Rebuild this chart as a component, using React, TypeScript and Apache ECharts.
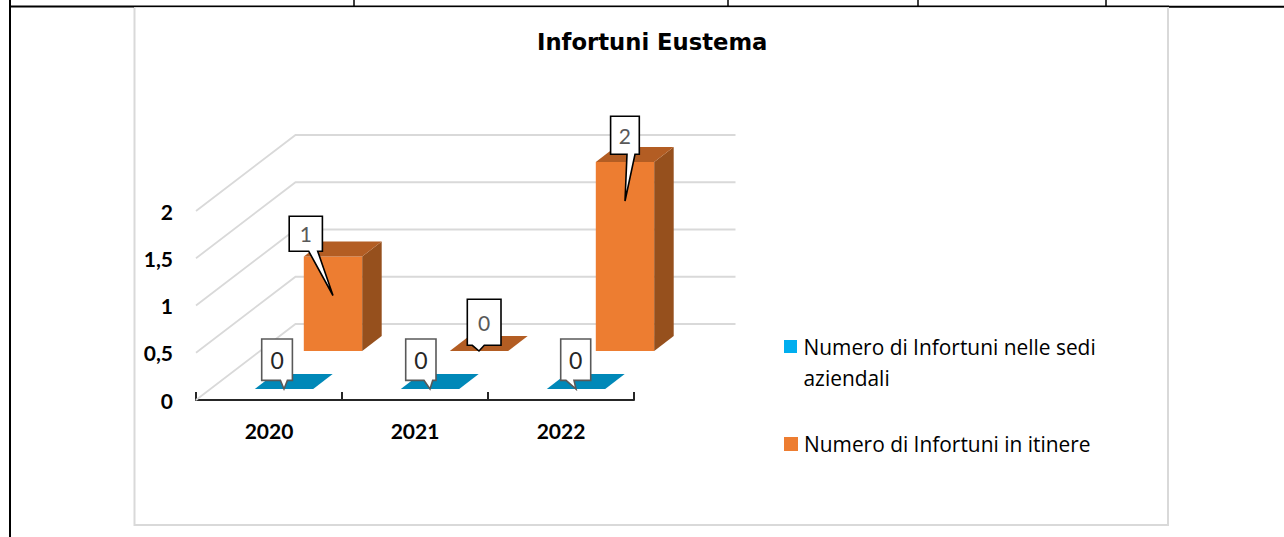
import React, { useEffect, useRef } from "react";
import * as echarts from "echarts";

const categories = ["2020", "2021", "2022"];
const yTicks = [0, 0.5, 1, 1.5, 2];
const sedeName = "Numero di Infortuni nelle sedi aziendali";
const itinereName = "Numero di Infortuni in itinere";
const sedeValues = [0, 0, 0];
const itinereValues = [1, 0, 2];

const FONT = "Lato, 'Open Sans', sans-serif";

// 3D projection used to fake Excel's box chart
const DEPTH_X = 19.5;
const DEPTH_Y = -15;
const WALL_X = 99.5;
const WALL_Y = -76;
const WALL_W = 440;
const BAR_RATIO = 0.4;
const TIP_DROP = 39;

const SEDE_STYLE = {
  layer: { dx: 15, dy: -11 },
  front: "#00a9e6",
  top: "#0088b8",
  side: "#00678c",
  legend: "#00aeef",
  calloutStroke: "#595959",
  textFill: "#262626",
  textSize: 23,
  callouts: [
    { l: -22.3, r: 8.4, t: -50, b: -8.6, b0: -3.6, b1: 3.4 },
    { l: -24.3, r: 6, t: -50, b: -8.6, b0: -6, b1: 2.7 },
    { l: -15.3, r: 14.7, t: -50, b: -8.6, b0: -10, b1: -2 },
  ],
};
const ITINERE_STYLE = {
  layer: { dx: 64, dy: -49 },
  front: "#ed7d31",
  top: "#b35d23",
  side: "#96501d",
  legend: "#ed7d31",
  calloutStroke: "#000000",
  textFill: "#595959",
  textSize: 21,
  callouts: [
    { l: -43.8, r: -10.6, t: -79.3, b: -44.3, b0: -24.3, b1: -15.3 },
    { l: -11.7, r: 22, t: -51.7, b: -5.7, b0: -6.7, b1: 5.3 },
    { l: -14.4, r: 14.3, t: -84.7, b: -46.7, b0: 2, b1: 10 },
  ],
};

function poly(points: number[][], fill: string, z2 = 0) {
  return { type: "polygon", z2, shape: { points }, style: { fill } };
}

function barRenderer(st: typeof SEDE_STYLE) {
  return (params: any, api: any) => {
    const idx = api.value(0);
    const val = api.value(1);
    const base = api.coord([idx, 0]);
    const head = api.coord([idx, val]);
    const w = api.size([1, 0])[0] * BAR_RATIO;
    const cx = base[0] + st.layer.dx;
    const x0 = cx - w / 2;
    const x1 = cx + w / 2;
    const yb = base[1] + st.layer.dy;
    const yt = head[1] + st.layer.dy;
    const children: any[] = [];
    if (val > 0) {
      children.push(poly([[x0, yb], [x1, yb], [x1, yt], [x0, yt]], st.front));
      children.push(
        poly([[x1, yb], [x1 + DEPTH_X, yb + DEPTH_Y], [x1 + DEPTH_X, yt + DEPTH_Y], [x1, yt]], st.side)
      );
    }
    children.push(
      poly([[x0, yt], [x1, yt], [x1 + DEPTH_X, yt + DEPTH_Y], [x0 + DEPTH_X, yt + DEPTH_Y]], st.top)
    );
    const c = st.callouts[params.dataIndex];
    const tx = cx;
    const ty = yt + (val > 0 ? TIP_DROP : 0);
    children.push({
      type: "polygon",
      z2: 10,
      shape: {
        points: [
          [tx + c.l, ty + c.t],
          [tx + c.r, ty + c.t],
          [tx + c.r, ty + c.b],
          [tx + c.b1, ty + c.b],
          [tx, ty],
          [tx + c.b0, ty + c.b],
          [tx + c.l, ty + c.b],
        ],
      },
      style: { fill: "#ffffff", stroke: st.calloutStroke, lineWidth: 1.6 },
    });
    children.push({
      type: "text",
      z2: 11,
      style: {
        text: String(val),
        x: tx + (c.l + c.r) / 2,
        y: ty + (c.t + c.b) / 2,
        textAlign: "center",
        textVerticalAlign: "middle",
        fontFamily: FONT,
        fontSize: st.textSize,
        fill: st.textFill,
      },
    });
    return { type: "group", children };
  };
}

function wallRenderer(params: any, api: any) {
  const v = api.value(1);
  const p = api.coord([0, v]);
  const left = params.coordSys.x;
  return {
    type: "polyline",
    shape: {
      points: [
        [left, p[1]],
        [left + WALL_X, p[1] + WALL_Y],
        [left + WALL_X + WALL_W, p[1] + WALL_Y],
      ],
    },
    style: { fill: "none", stroke: "#d9d9d9", lineWidth: 1.8 },
  };
}

function pairs(values: number[]) {
  return values.map((v, i) => [i, v]);
}

function blackLine(x1: number, y1: number, x2: number, y2: number, lineWidth: number) {
  return {
    type: "line",
    z: 5,
    silent: true,
    shape: { x1, y1, x2, y2 },
    style: { stroke: "#000000", lineWidth },
  };
}

export default function App() {
  const ref = useRef<HTMLDivElement>(null);
  useEffect(() => {
    const chart = echarts.init(ref.current!, undefined, { renderer: "svg" });
    const legendBase = {
      orient: "vertical",
      left: 784,
      padding: 0,
      itemWidth: 14,
      textStyle: {
        fontFamily: "'Open Sans', sans-serif",
        fontSize: 20.9,
        color: "#000000",
        lineHeight: 31,
        padding: [0, 0, 0, 1],
      },
      selectedMode: false,
    };
    chart.setOption({
      animation: false,
      backgroundColor: "#ffffff",
      title: {
        text: "Infortuni Eustema",
        left: 532,
        top: 25,
        textStyle: { fontFamily: "'DejaVu Sans', sans-serif", fontSize: 22.7, fontWeight: "bold", color: "#000000" },
      },
      legend: [
        {
          ...legendBase,
          top: 331,
          itemHeight: 62,
          data: [{ name: sedeName, icon: "path://M0,0L0,0Z M0,9H13V22H0Z M0,62L0,62Z" }],
          formatter: () => "Numero di Infortuni nelle sedi\naziendali",
        },
        {
          ...legendBase,
          top: 428.5,
          itemHeight: 14,
          data: [{ name: itinereName, icon: "rect" }],
        },
      ],
      grid: { left: 196, width: 438, top: 211, height: 189 },
      xAxis: {
        type: "category",
        data: categories,
        boundaryGap: true,
        axisLine: { show: true, lineStyle: { color: "#262626", width: 2 } },
        axisTick: { show: true, alignWithLabel: false, inside: true, length: 8, lineStyle: { color: "#262626", width: 2 } },
        axisLabel: {
          margin: 20,
          fontFamily: FONT,
          fontSize: 21,
          fontWeight: "bold",
          color: "#000000",
        },
      },
      yAxis: {
        type: "value",
        min: 0,
        max: 2,
        interval: 0.5,
        axisLine: { show: false },
        axisTick: { show: false },
        splitLine: { show: false },
        axisLabel: {
          margin: 23,
          fontFamily: FONT,
          fontSize: 21,
          fontWeight: "bold",
          color: "#000000",
          padding: [2, 0, 0, 0],
          formatter: (v: number) => String(v).replace(".", ","),
        },
      },
      series: [
        {
          type: "custom",
          silent: true,
          z: 1,
          renderItem: wallRenderer,
          data: yTicks.map((v) => [0, v]),
          encode: { x: 0, y: 1 },
        },
        {
          type: "custom",
          name: itinereName,
          z: 2,
          itemStyle: { color: ITINERE_STYLE.legend },
          renderItem: barRenderer(ITINERE_STYLE),
          data: pairs(itinereValues),
          encode: { x: 0, y: 1 },
        },
        {
          type: "custom",
          name: sedeName,
          z: 3,
          itemStyle: { color: SEDE_STYLE.legend },
          renderItem: barRenderer(SEDE_STYLE),
          data: pairs(sedeValues),
          encode: { x: 0, y: 1 },
        },
      ],
      graphic: [
        {
          type: "rect",
          z: 0,
          silent: true,
          shape: { x: 134.5, y: 7, width: 1033.5, height: 518 },
          style: { fill: "none", stroke: "#d9d9d9", lineWidth: 2 },
        },
        blackLine(10, 0, 10, 537, 2),
        blackLine(10, 6.5, 134, 6.5, 2),
        blackLine(134, 6.3, 1169, 6.3, 1.5),
        blackLine(1169, 6.7, 1284, 6.7, 2),
        blackLine(354, 0, 354, 6, 1.5),
        blackLine(728, 0, 728, 6, 1.5),
        blackLine(918, 0, 918, 6, 1.5),
        blackLine(1106, 0, 1106, 6, 1.5),
      ],
    });
    return () => chart.dispose();
  }, []);
  return <div ref={ref} style={{ position: "absolute", left: 0, top: 0, width: 1284, height: 537 }} />;
}
